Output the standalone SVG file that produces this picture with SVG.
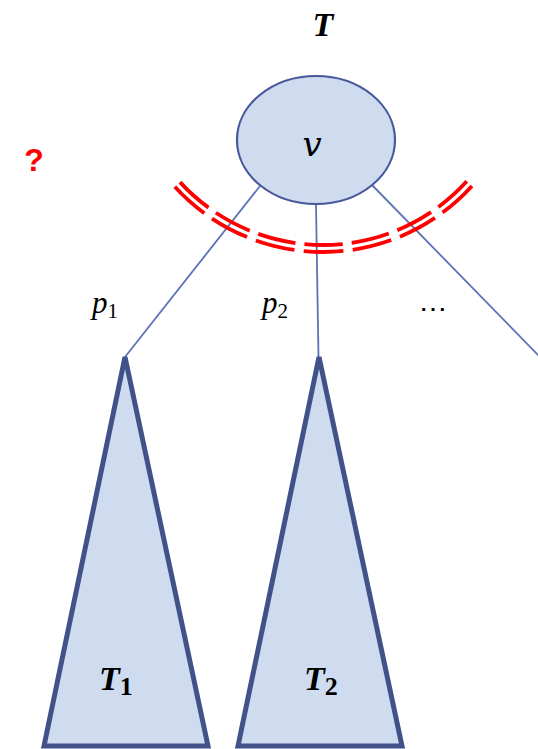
<svg xmlns="http://www.w3.org/2000/svg" width="538" height="749" viewBox="0 0 538 749">
<style>
.tri{fill:#CFDBEE;stroke:#41528A;stroke-width:5;stroke-linejoin:miter}
.edge{stroke:#5B73B6;stroke-width:1.8;fill:none}
.cut{stroke:#FF0000;stroke-width:3.8;fill:none;stroke-dasharray:11.85 2.8}
.m{font-family:"Liberation Serif","DejaVu Serif",serif;font-style:italic;fill:#000}
.b{font-weight:bold}
</style>
<rect width="538" height="749" fill="#fff"/>
<g id="connectors">
<line class="edge" x1="260" y1="186" x2="125" y2="357"/>
<line class="edge" x1="316" y1="205" x2="318.5" y2="357"/>
<line class="edge" x1="372" y1="185" x2="540" y2="357"/>
</g>
<g id="cut">
<path class="cut" pathLength="100" d="M180,182.1 A194,194 0 0 0 467.3,180.7"/>
<path class="cut" pathLength="100" d="M174.8,186.8 A201,201 0 0 0 472.5,185.3"/>
</g>
<g id="root">
<ellipse cx="316" cy="140" rx="79" ry="64" fill="#CFDBEE" stroke="#46599A" stroke-width="2.2"/>
<text x="312" y="156" font-family="DejaVu Serif,serif" font-style="italic" font-size="34" text-anchor="middle">v</text>
</g>
<g id="T1">
<polygon class="tri" points="125,357 208,746 44,746"/>
<text class="m b" x="99" y="690" font-size="34">T<tspan font-style="normal" font-size="26" dy="5">1</tspan></text>
</g>
<g id="T2">
<polygon class="tri" points="319,357 402,746 238,746"/>
<text class="m b" x="304" y="690" font-size="34">T<tspan font-style="normal" font-size="26" dy="5">2</tspan></text>
</g>
<g id="labels">
<text class="m b" x="323" y="36" font-size="34" text-anchor="middle">T</text>
<text x="34" y="171" font-family="Liberation Sans,Arial,sans-serif" font-weight="bold" font-size="32" fill="#FF0000" text-anchor="middle">?</text>
<text class="m" x="92" y="313" font-size="31">p<tspan font-style="normal" font-size="21" dy="5">1</tspan></text>
<text class="m" x="262" y="313" font-size="31">p<tspan font-style="normal" font-size="21" dy="5">2</tspan></text>
<text x="433" y="318" font-family="Liberation Serif,serif" font-size="28" text-anchor="middle">⋯</text>
</g>
</svg>
